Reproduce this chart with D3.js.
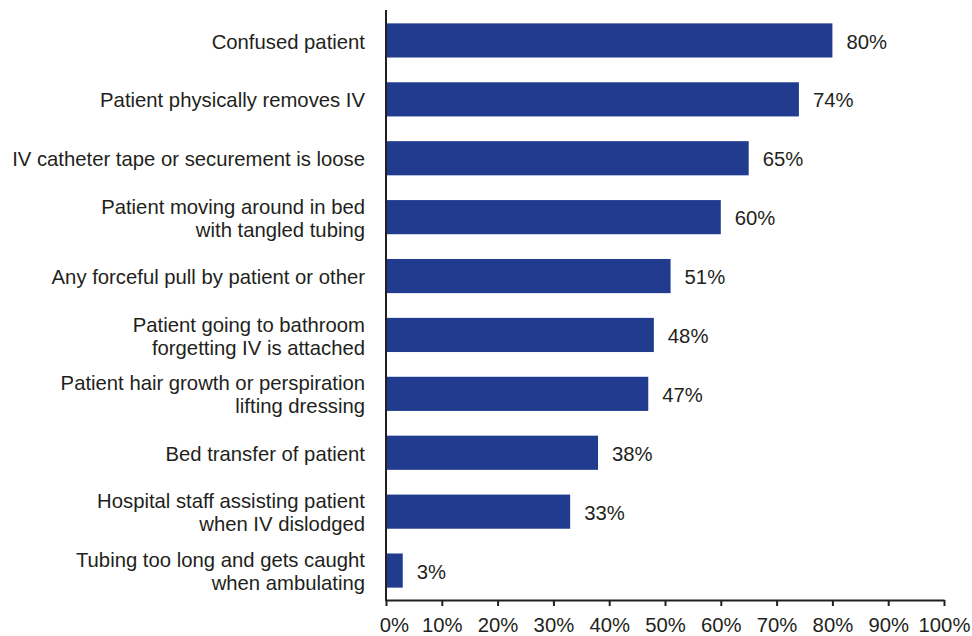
<!DOCTYPE html>
<html>
<head>
<meta charset="utf-8">
<script src="https://cdn.jsdelivr.net/npm/d3@7"></script>
<style>
    body { margin: 0; background: #fff; }
    text { font-family: "Liberation Sans", Arial, sans-serif; fill: #231f20; }
</style>
</head>
<body>
<div id="chart"></div>
<script>
// data
let categories = [
    "Confused patient",
    "Patient physically removes IV",
    "IV catheter tape or securement is loose",
    "Patient moving around in bed\nwith tangled tubing",
    "Any forceful pull by patient or other",
    "Patient going to bathroom\nforgetting IV is attached",
    "Patient hair growth or perspiration\nlifting dressing",
    "Bed transfer of patient",
    "Hospital staff assisting patient\nwhen IV dislodged",
    "Tubing too long and gets caught\nwhen ambulating"
];
let values = [80, 74, 65, 60, 51, 48, 47, 38, 33, 3];
let xTicks = [0, 10, 20, 30, 40, 50, 60, 70, 80, 90, 100];

let width = 972, height = 636;
let margin = {top: 10, right: 28, bottom: 36, left: 386};
let BAR_COLOR = "#213c8f";
let INK = "#231f20";
let FONT_SIZE = "20.3px";

let svg = d3.select("#chart")
    .append("svg")
    .attr("width", width)
    .attr("height", height);

let xScale = d3.scaleLinear()
    .domain([0, 100])
    .range([margin.left, width - margin.right]);

let yScale = d3.scaleBand()
    .domain(categories)
    .range([margin.top + 1, height - margin.bottom])
    .paddingInner(0.42)
    .paddingOuter(0.21);

// bars
svg.append("g").selectAll("rect")
    .data(values)
    .enter().append("rect")
    .attr("x", xScale(0))
    .attr("y", function(d, i){ return yScale(categories[i]); })
    .attr("width", function(d){ return xScale(d) - xScale(0); })
    .attr("height", yScale.bandwidth())
    .attr("fill", BAR_COLOR);

// value labels
svg.append("g").selectAll("text")
    .data(values)
    .enter().append("text")
    .attr("x", function(d){ return xScale(d) + 14; })
    .attr("y", function(d, i){ return yScale(categories[i]) + yScale.bandwidth() / 2; })
    .attr("dy", "0.4em")
    .style("font-size", FONT_SIZE)
    .text(function(d){ return d + "%"; });

// category labels, right aligned, possibly two lines
let labels = svg.append("g").selectAll("text")
    .data(categories)
    .enter().append("text")
    .attr("text-anchor", "end")
    .style("font-size", FONT_SIZE)
    .attr("transform", function(d){
        return "translate(" + (margin.left - 21) + "," + (yScale(d) + yScale.bandwidth() / 2) + ")";
    });

labels.each(function(d){
    let lines = d.split("\n");
    let lineHeight = 23;
    let start = -(lines.length - 1) * lineHeight / 2;
    d3.select(this).selectAll("tspan")
        .data(lines)
        .enter().append("tspan")
        .attr("x", 0)
        .attr("y", function(l, i){ return start + i * lineHeight; })
        .attr("dy", "0.4em")
        .text(function(l){ return l; });
});

// x axis
let xAxis = svg.append("g")
    .attr("transform", "translate(0," + (height - margin.bottom) + ")")
    .call(d3.axisBottom(xScale)
        .tickValues(xTicks)
        .tickSize(6)
        .tickSizeOuter(0)
        .tickPadding(12)
        .tickFormat(function(d){ return d + "%"; }));

xAxis.select(".domain").attr("stroke", INK).attr("stroke-width", 2);
xAxis.selectAll(".tick line").attr("stroke", INK).attr("stroke-width", 2);
xAxis.selectAll(".tick text")
    .style("font-size", FONT_SIZE)
    .style("font-family", "'Liberation Sans', Arial, sans-serif")
    .attr("fill", INK);
// first label sits nudged to the right like in the original
xAxis.selectAll(".tick text").filter(function(d){ return d === 0; }).attr("dx", 8);

// y axis line
svg.append("line")
    .attr("x1", xScale(0)).attr("x2", xScale(0))
    .attr("y1", margin.top).attr("y2", height - margin.bottom + 1)
    .attr("stroke", INK)
    .attr("stroke-width", 2);
</script>
</body>
</html>
